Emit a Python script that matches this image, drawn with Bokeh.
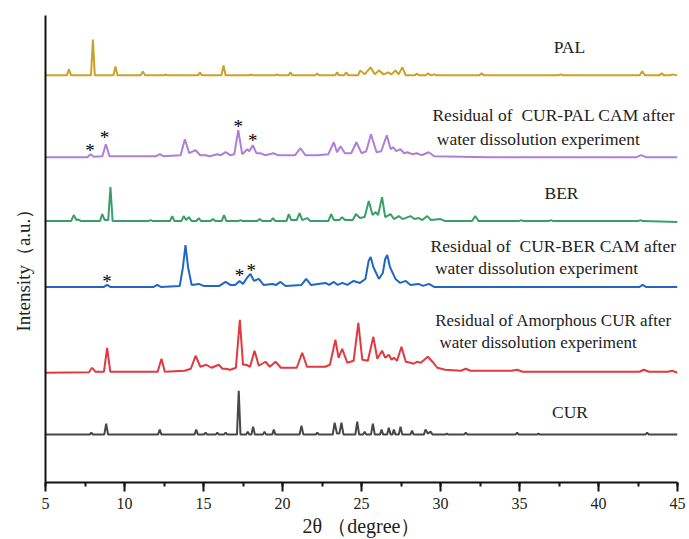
from bokeh.plotting import figure
from bokeh.models import Range1d, SingleIntervalTicker, FixedTicker, ColumnDataSource, LabelSet
from bokeh.core.properties import value
from bokeh.embed import file_html
from bokeh.resources import INLINE

# ---- data: (2theta, relative intensity above own baseline) ----
cur_pts = [(5.0,0),(7.8,0),(7.9,2),(8.0,0),(8.72,0),(8.84,11),(8.96,0),(12.12,0),(12.23,5),(12.34,0),
    (14.43,0),(14.54,5),(14.65,0),(15.03,0),(15.13,2),(15.23,0),(15.77,0),(15.87,2),(15.97,0),(16.3,0),
    (16.4,2),(16.5,0),(17.12,0),(17.23,44),(17.34,0),(17.7,0),(17.8,3),(17.9,0),(18.03,0),(18.14,8),
    (18.25,0),(18.76,0),(18.86,3),(18.96,0),(19.35,0),(19.45,5),(19.55,0),(21.08,0),(21.2,9),(21.32,0),
    (22.1,0),(22.2,2),(22.3,0),(23.18,0),(23.3,12),(23.45,1),(23.6,1),(23.73,12),(23.86,0),(24.61,0),
    (24.73,13),(24.85,0),(25.1,0),(25.2,3),(25.3,0),(25.6,0),(25.72,11),(25.84,0),(26.17,0),(26.27,5),
    (26.37,0),(26.62,0),(26.73,7),(26.84,0),(26.95,0),(27.05,5),(27.15,0),(27.36,0),(27.47,8),(27.58,0),
    (28.1,0),(28.2,4),(28.3,0),(28.95,0),(29.05,5),(29.2,1),(29.37,3),(29.5,0),(30.3,0),(30.4,1),
    (30.5,0),(31.5,0),(31.6,2),(31.7,0),(34.75,0),(34.85,2),(34.95,0),(36.1,0),(36.2,1),(36.3,0),
    (42.97,0),(43.08,2),(43.19,0),(45.0,0)]

amor_pts = [(5.0,0),(7.75,0.5),(7.95,5),(8.15,1),(8.7,1),(8.9,25),(9.1,1),(12.1,1),(12.34,14),(12.55,1),
    (13.8,2),(14.2,4),(14.5,17),(14.8,6),(15.17,8),(15.5,5),(15.97,8),(16.2,4),(16.4,4),(16.7,3),
    (17.05,5),(17.3,53),(17.5,8),(17.7,8),(17.95,6),(18.23,22),(18.5,7),(18.92,11),(19.2,6),(19.56,11),
    (19.9,5),(20.9,5),(21.25,20),(21.55,6),(22.2,6),(22.7,6),(23.0,8),(23.35,33),(23.55,15),(23.78,24),
    (24.1,10),(24.5,12),(24.8,50),(25.05,13),(25.4,12),(25.75,36),(26.0,14),(26.3,22),(26.5,15),(26.73,18),
    (26.9,13),(27.05,15),(27.25,12),(27.53,26),(27.8,11),(28.1,10),(28.3,9),(28.5,11),(28.75,10),(29.2,16),
    (29.55,10),(29.8,5),(30.3,3),(31.3,2),(31.6,4),(31.9,2),(34.5,2),(34.85,3),(35.2,1),(42.6,1),
    (42.87,3),(43.2,1),(44.4,1),(44.66,2),(45.0,0)]

curber_pts = [(5.0,0),(8.7,0),(8.9,2),(9.1,0),(11.85,0),(12.07,2),(12.3,0),(13.5,1),(13.7,20),(13.86,42),
    (14.02,20),(14.25,2),(14.7,3),(15.0,1),(16.0,1),(16.4,5),(16.7,2),(17.0,2),(17.28,6),(17.5,3),
    (17.75,9),(17.97,13),(18.2,6),(18.5,8),(18.8,2),(19.35,3),(19.6,2),(19.87,5),(20.2,1),(21.2,2),
    (21.5,8),(21.8,2),(22.72,4),(22.95,2),(23.25,5),(23.5,2),(23.78,4),(24.1,2),(24.5,6),(24.9,4),
    (25.25,8),(25.45,26),(25.58,30),(25.75,20),(26.1,8),(26.35,14),(26.5,28),(26.63,32),(26.8,20),(27.15,8),
    (27.45,4),(27.8,6),(28.1,2),(28.6,3),(28.9,1),(29.26,3),(29.6,0),(35.0,0),(42.6,0),(42.8,2),
    (43.0,0),(45.0,0)]

ber_pts = [(5.0,0),(6.62,0),(6.79,6),(6.95,1),(7.1,1.5),(7.25,0),(8.45,0),(8.59,7),(8.75,1),(8.97,1),
    (9.11,34),(9.25,0),(11.5,0),(11.65,1),(11.8,0),(12.88,0),(13.02,5),(13.16,0),(13.6,0),(13.75,5),
    (13.9,1),(14.07,4),(14.25,0),(14.55,0),(14.7,3),(14.85,0),(15.45,0),(15.6,2),(15.75,0),(16.15,0),
    (16.3,6),(16.45,0),(17.2,0),(17.34,1),(17.5,0),(18.4,0),(18.56,2),(18.72,0),(19.25,0),(19.4,3),
    (19.55,0),(20.25,0),(20.4,7),(20.55,1),(20.9,1),(21.08,8),(21.25,1),(21.56,3),(21.75,0),(22.9,0),
    (23.08,7),(23.25,1),(23.6,1),(23.77,4),(23.95,1),(24.45,1),(24.65,7),(24.9,3),(25.2,4),(25.46,20),
    (25.7,6),(25.9,9),(26.05,6),(26.3,24),(26.5,4),(26.84,7),(27.05,2),(27.36,5),(27.6,2),(28.1,5),
    (28.35,2),(28.63,3),(28.85,1),(29.16,5),(29.4,1),(30.0,2),(30.3,0),(32.0,0),(32.2,5),(32.4,0),
    (34.95,0),(35.1,1),(35.25,0),(36.85,0),(37.0,1),(37.15,0),(42.5,0),(42.66,1),(42.8,0),(45.0,-1)]

curpal_pts = [(5.0,0),(7.65,0),(7.85,3),(8.05,0.5),(8.6,1),(8.82,13),(9.05,1),(12.0,1),(12.24,3),(12.45,1),
    (13.55,2),(13.82,18),(14.1,4),(14.5,7),(14.8,2),(15.13,2),(15.4,1),(15.87,3),(16.1,2),(16.4,5),
    (16.7,2),(16.95,3),(17.2,27),(17.45,3),(17.77,8),(17.9,6),(18.12,12),(18.35,4),(18.6,4),(18.9,2),
    (19.43,4),(19.7,2),(20.8,2),(21.14,9),(21.45,2),(22.2,2),(22.9,3),(23.25,15),(23.45,5),(23.67,11),
    (23.95,4),(24.35,4),(24.68,15),(25.0,4),(25.3,6),(25.6,23),(25.95,5),(26.25,6),(26.6,22),(26.85,8),
    (27.0,10),(27.2,6),(27.47,8),(27.7,4),(27.9,5),(28.2,3),(28.5,4),(28.8,2),(29.26,5),(29.6,1),
    (33.0,0),(38.0,0),(42.4,0),(42.7,2),(43.0,0),(45.0,0)]

pal_pts = [(5.0,0),(6.35,0),(6.48,6),(6.62,0),(7.88,0),(8.0,36),(8.12,0),(9.3,0),(9.43,9),(9.56,0),
    (11.02,0),(11.16,4),(11.3,0),(12.5,0),(12.6,1),(12.7,0),(14.65,0),(14.77,3),(14.9,0),(16.13,0),
    (16.27,10),(16.4,0),(17.9,0),(18.0,1),(18.1,0),(19.55,0),(19.66,1),(19.77,0),(20.38,0),(20.5,3),
    (20.62,0),(22.08,0),(22.2,2),(22.32,0),(23.34,0),(23.46,3),(23.58,0),(23.9,0),(24.03,3),(24.16,0),
    (24.78,0),(24.92,5),(25.2,1),(25.57,8),(25.85,1),(26.1,5),(26.4,1),(26.7,3),(26.9,1),(27.15,5),
    (27.35,1),(27.58,8),(27.8,0),(28.38,0),(28.5,2),(28.62,0),(29.08,0),(29.2,2),(29.4,0),(29.6,1),
    (29.75,0),(32.45,0),(32.6,2),(32.75,0),(37.45,0),(37.6,1),(37.75,0),(42.6,0),(42.77,4),(42.94,0),
    (43.85,0),(44.0,2),(44.15,0),(44.55,0),(44.66,1),(45.0,0)]

series_names = ["CUR", "Amorphous CUR residual", "CUR-BER CAM residual", "BER", "CUR-PAL CAM residual", "PAL"]
series_pts = [cur_pts, amor_pts, curber_pts, ber_pts, curpal_pts, pal_pts]
offsets = [48, 110, 196, 262, 326, 408]
colors = ["#474747", "#E0393E", "#2166C4", "#3A9E6A", "#B07ED6", "#C9A227"]

# marked peaks (asterisks)
star_x = [7.81, 8.73, 17.2, 18.12, 8.9, 17.28, 18.02]
star_y = [333, 346, 357, 343, 201, 207, 212]

NB = "\u00a0"
# centred sample names
name_text = ["PAL", "BER", "CUR"]
name_x = [38.16, 37.66, 38.2]
name_y = [436, 290, 71]
# left-aligned two-line notes
note_text = ["Residual of" + NB + " CUR-PAL CAM after", NB + "water dissolution experiment",
             "Residual of" + NB + " CUR-BER CAM after", NB + "water dissolution experiment"]
note_x = [29.49, 29.49, 29.37, 29.37]
note_y = [368, 344, 237, 215]
amor_text = ["Residual of Amorphous CUR after", NB + "water dissolution experiment"]
amor_x = [29.66, 29.66]
amor_y = [162, 140]

p = figure(width=689, height=539, output_backend="svg", toolbar_location=None,
           x_range=Range1d(5, 45), y_range=Range1d(0, 468),
           min_border_left=45, min_border_right=12, min_border_top=15, min_border_bottom=56)
p.outline_line_color = None
p.xgrid.visible = False
p.ygrid.visible = False
p.background_fill_color = "white"
p.border_fill_color = "white"

for pts, off, col in zip(series_pts, offsets, colors):
    xs = [a for a, b in pts]
    ys = [b + off for a, b in pts]
    p.line(xs, ys, line_color=col, line_width=2)

p.text(star_x, star_y, text=["*"] * len(star_x), text_font=value("Liberation Serif"),
       text_font_size="19px", text_align="center", text_baseline="middle", text_color="black")

name_src = ColumnDataSource(dict(x=name_x, y=name_y, t=name_text))
p.add_layout(LabelSet(x="x", y="y", text="t", source=name_src, text_align="center",
                      text_baseline="middle", text_font="Liberation Serif",
                      text_font_size="17.5px", text_color="#222222"))
note_src = ColumnDataSource(dict(x=note_x, y=note_y, t=note_text))
p.add_layout(LabelSet(x="x", y="y", text="t", source=note_src, text_align="left",
                      text_baseline="middle", text_font="Liberation Serif",
                      text_font_size="17.5px", text_color="#222222"))
amor_src = ColumnDataSource(dict(x=amor_x, y=amor_y, t=amor_text))
p.add_layout(LabelSet(x="x", y="y", text="t", source=amor_src, text_align="left",
                      text_baseline="middle", text_font="Liberation Serif",
                      text_font_size="17px", text_color="#222222"))

xa = p.xaxis[0]
xa.ticker = SingleIntervalTicker(interval=5, num_minor_ticks=2)
xa.axis_line_width = 2
xa.axis_line_color = "#111111"
xa.major_tick_line_width = 2
xa.major_tick_line_color = "#111111"
xa.minor_tick_line_width = 2
xa.minor_tick_line_color = "#111111"
xa.major_tick_out = 9
xa.major_tick_in = 0
xa.minor_tick_out = 4
xa.minor_tick_in = 0
xa.major_label_standoff = 6
xa.major_label_text_font = "Liberation Serif"
xa.major_label_text_font_size = "16px"
xa.major_label_text_color = "#222222"
xa.axis_label = "2θ （degree）"
xa.axis_label_text_font = "Liberation Serif"
xa.axis_label_text_font_size = "20px"
xa.axis_label_text_font_style = "normal"
xa.axis_label_text_color = "#222222"
xa.axis_label_standoff = 3

ya = p.yaxis[0]
ya.ticker = FixedTicker(ticks=[])
ya.axis_line_width = 2
ya.axis_line_color = "#111111"
ya.major_tick_line_color = None
ya.minor_tick_line_color = None
ya.axis_label = "Intensity（a.u.）" + NB * 7
ya.axis_label_text_font = "Liberation Serif"
ya.axis_label_text_font_size = "19px"
ya.axis_label_text_font_style = "normal"
ya.axis_label_text_color = "#222222"
ya.axis_label_standoff = 12

open("out.html", "w").write(file_html(p, INLINE))
